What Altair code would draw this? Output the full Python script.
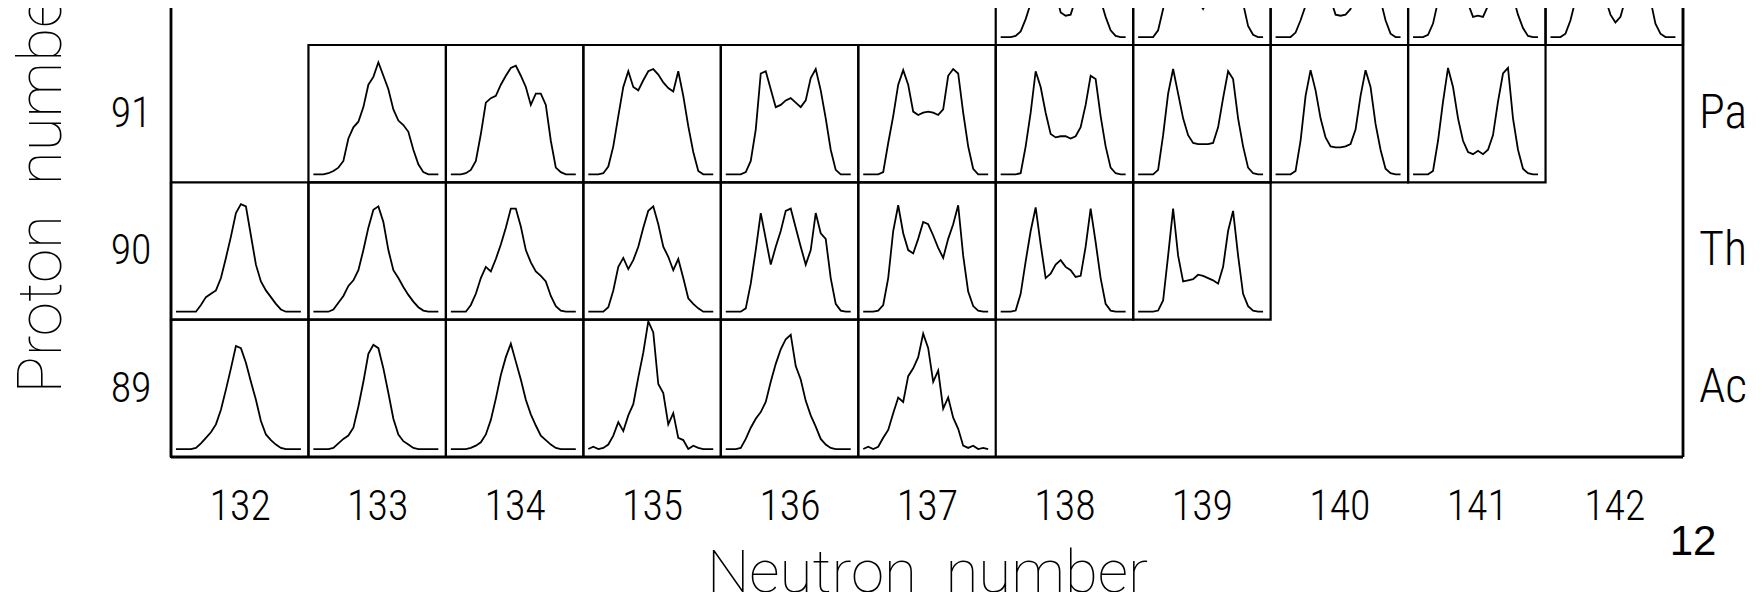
import altair as alt
import pandas as pd

# fragment mass numbers sampled across each cell
mass = [68, 72, 76, 80, 84, 88, 92, 96, 100, 104, 108, 112, 116, 120, 124, 128,
        132, 136, 140, 144, 148, 152, 156, 160, 164, 168]

neutrons = [132, 133, 134, 135, 136, 137, 138, 139, 140, 141, 142]
protons = [89, 90, 91]
elements = ["Ac", "Th", "Pa"]
element_z = [89, 90, 91]

# yields (arbitrary units) read from each cell, U row (Z=92)
u138 = [0, 0, 0, 1, 5, 16, 30, 60, 90, 85, 60, 40, 22, 19, 20, 34, 65, 90, 85, 55, 33, 18, 6, 1, 0, 0]
u139 = [0, 0, 0, 0, 6, 25, 45, 75, 95, 80, 60, 40, 32, 25, 34, 45, 65, 85, 95, 75, 40, 30, 10, 2, 0, 0]
u140 = [0, 0, 0, 0, 4, 15, 28, 60, 88, 80, 50, 34, 20, 19, 20, 25, 45, 85, 92, 70, 45, 33, 15, 3, 0, 0]
u141 = [0, 0, 0, 2, 12, 32, 55, 85, 95, 75, 45, 30, 18, 19, 18, 28, 45, 88, 95, 65, 36, 20, 8, 1, 0, 0]
u142 = [0, 0, 0, 3, 15, 33, 60, 88, 95, 70, 45, 34, 20, 13, 18, 34, 50, 75, 95, 85, 33, 12, 3, 0, 0, 0]

# Pa row (Z=91)
pa133 = [0, 0, 0, 1, 3, 6, 12, 32, 42, 47, 60, 80, 87, 100, 88, 76, 58, 48, 44, 38, 22, 9, 2, 0, 0, 0]
pa134 = [0, 0, 0, 1, 4, 12, 36, 64, 68, 70, 80, 88, 95, 97, 88, 78, 62, 72, 72, 62, 30, 6, 2, 0, 0, 0]
pa135 = [0, 0, 0, 1, 7, 25, 52, 78, 92, 78, 75, 84, 92, 94, 89, 82, 77, 74, 92, 70, 43, 20, 3, 0, 0, 0]
pa136 = [0, 0, 0, 0, 2, 12, 40, 90, 92, 76, 60, 62, 66, 68, 64, 60, 66, 86, 94, 75, 50, 22, 4, 0, 0, 0]
pa137 = [0, 0, 0, 0, 2, 28, 52, 80, 93, 80, 56, 53, 55, 56, 55, 53, 58, 88, 94, 90, 55, 25, 5, 0, 0, 0]
pa138 = [0, 0, 0, 0, 1, 25, 55, 92, 78, 55, 36, 33, 34, 34, 32, 34, 42, 62, 88, 85, 52, 25, 6, 1, 0, 0]
pa139 = [0, 0, 0, 0, 4, 35, 72, 94, 72, 50, 35, 28, 27, 27, 27, 28, 42, 68, 92, 85, 50, 25, 6, 1, 0, 0]
pa140 = [0, 0, 0, 0, 3, 30, 70, 93, 75, 50, 33, 25, 24, 24, 25, 27, 40, 70, 93, 78, 45, 22, 5, 1, 0, 0]
pa141 = [0, 0, 0, 0, 3, 30, 65, 95, 78, 50, 30, 20, 18, 21, 18, 22, 35, 65, 90, 95, 50, 22, 5, 1, 0, 0]

# Th row (Z=90)
th132 = [0, 0, 0, 0, 0, 6, 13, 16, 19, 30, 48, 67, 88, 96, 94, 68, 42, 27, 19, 13, 7, 2, 0, 0, 0, 0]
th133 = [0, 0, 0, 0, 2, 8, 14, 23, 28, 37, 55, 75, 91, 94, 80, 55, 37, 30, 22, 15, 9, 4, 1, 0, 0, 0]
th134 = [0, 0, 0, 0, 6, 16, 30, 40, 36, 47, 60, 75, 92, 92, 76, 55, 44, 36, 32, 27, 14, 5, 1, 0, 0, 0]
th135 = [0, 0, 0, 0, 4, 19, 40, 48, 38, 46, 58, 75, 90, 94, 78, 58, 49, 37, 47, 30, 12, 7, 3, 0, 0, 0]
th136 = [0, 0, 0, 0, 3, 25, 55, 88, 65, 42, 58, 72, 90, 92, 75, 58, 42, 55, 88, 70, 65, 30, 7, 1, 0, 0]
th137 = [0, 0, 0, 1, 6, 30, 72, 95, 70, 55, 52, 65, 80, 78, 68, 57, 48, 65, 78, 95, 50, 18, 5, 1, 0, 0]
th138 = [0, 0, 0, 1, 16, 45, 72, 93, 60, 30, 34, 42, 46, 40, 37, 31, 32, 58, 92, 62, 30, 7, 1, 0, 0, 0]
th139 = [0, 0, 0, 0, 1, 10, 50, 92, 50, 27, 28, 29, 33, 32, 30, 28, 25, 40, 72, 90, 50, 16, 5, 1, 0, 0]

# Ac row (Z=89)
ac132 = [0, 0, 0, 0, 1, 5, 10, 15, 22, 35, 53, 72, 92, 90, 77, 60, 44, 25, 13, 8, 4, 1, 0, 0, 0, 0]
ac133 = [0, 0, 0, 0, 1, 5, 9, 12, 19, 38, 60, 85, 93, 90, 72, 50, 27, 13, 7, 4, 1, 0, 0, 0, 0, 0]
ac134 = [0, 0, 0, 0, 1, 3, 6, 13, 26, 45, 66, 82, 94, 78, 62, 44, 31, 21, 12, 8, 4, 1, 0, 0, 0, 0]
ac135 = [0, 2, 0, 1, 4, 12, 24, 16, 30, 40, 64, 86, 114, 104, 58, 50, 22, 32, 10, 8, 0, 3, 1, 0, 0, 0]
ac136 = [0, 0, 0, 1, 9, 19, 27, 33, 42, 60, 76, 89, 98, 102, 74, 62, 43, 30, 20, 9, 4, 1, 0, 0, 0, 0]
ac137 = [0, 2, 0, 2, 10, 17, 32, 46, 42, 65, 72, 82, 103, 90, 60, 70, 36, 46, 28, 18, 3, 1, 3, 0, 1, 0]

cells = [
    (92, 138, u138), (92, 139, u139), (92, 140, u140), (92, 141, u141), (92, 142, u142),
    (91, 133, pa133), (91, 134, pa134), (91, 135, pa135), (91, 136, pa136), (91, 137, pa137),
    (91, 138, pa138), (91, 139, pa139), (91, 140, pa140), (91, 141, pa141),
    (90, 132, th132), (90, 133, th133), (90, 134, th134), (90, 135, th135), (90, 136, th136),
    (90, 137, th137), (90, 138, th138), (90, 139, th139),
    (89, 132, ac132), (89, 133, ac133), (89, 134, ac134), (89, 135, ac135), (89, 136, ac136),
    (89, 137, ac137),
]

rows = []
for z, n, yv in cells:
    for a, y in zip(mass, yv):
        rows.append({"Z": z, "N": n, "cell": f"{z}-{n}", "A": a, "Y": y})
curves = pd.DataFrame(rows)
boxes = pd.DataFrame([{"Z": z, "N": n} for z, n, _ in cells])
syms = pd.DataFrame({"Z": element_z, "sym": elements})

n_lo, n_hi = neutrons[0] - 0.5, neutrons[-1] + 0.5
z_lo = protons[0] - 0.5
z_top = 91.7694
frame = pd.DataFrame({
    "x": [n_lo, n_hi, n_lo],
    "x2": [n_lo, n_hi, n_hi],
    "y": [z_lo, z_lo, z_lo],
    "y2": [92.6, 92.6, z_lo],
})

xs = alt.Scale(domain=[n_lo, n_hi], nice=False, zero=False)
ys = alt.Scale(domain=[z_lo, z_top], nice=False, zero=False)

NUMFONT = "Liberation Sans Narrow, Roboto Condensed, DejaVu Sans Condensed, sans-serif"
TITLEFONT = "Roboto, Liberation Sans, sans-serif"

x_axis = alt.Axis(
    values=neutrons, format="d", ticks=False, tickSize=0, domain=False, grid=False,
    labelFont=NUMFONT, labelFontSize=42, labelColor="black", labelPadding=62,
    labelBaseline="alphabetic", labelFontWeight=300,
    title="Neutron\u00a0\u00a0number", titleFont=TITLEFONT, titleFontSize=60,
    titleFontWeight=100, titleColor="black", titleBaseline="alphabetic", titleY=134,
)
y_axis = alt.Axis(
    values=protons, format="d", ticks=False, tickSize=0, domain=False, grid=False,
    labelFont=NUMFONT, labelFontSize=42, labelColor="black", labelPadding=20,
    labelAlign="right", labelBaseline="middle", labelFontWeight=300,
    title="Proton\u00a0\u00a0number", titleFont=TITLEFONT, titleFontSize=62,
    titleFontWeight=100, titleColor="black", titleAngle=270, titleAlign="left",
    titleBaseline="alphabetic", titleX=-111, titleY=385,
)

rect = alt.Chart(boxes).transform_calculate(
    x0="datum.N - 0.5", x1="datum.N + 0.5", y0="datum.Z - 0.5", y1="datum.Z + 0.5"
).mark_rect(fillOpacity=0, stroke="black", strokeWidth=2.2).encode(
    x=alt.X("x0:Q", scale=xs, axis=x_axis),
    x2="x1:Q",
    y=alt.Y("y0:Q", scale=ys, axis=y_axis),
    y2="y1:Q",
)

lines = alt.Chart(curves).transform_calculate(
    xp="datum.N - 0.5 + 0.036 + (datum.A - 68) / 100 * 0.909",
    yp="datum.Z - 0.5 + 0.058 + datum.Y / 100 * 0.816",
).mark_line(color="black", strokeWidth=1.8, strokeJoin="miter").encode(
    x=alt.X("xp:Q", scale=xs, axis=x_axis),
    y=alt.Y("yp:Q", scale=ys, axis=y_axis),
    detail="cell:N",
    order="A:Q",
)

frame_rules = alt.Chart(frame).mark_rule(color="black", strokeWidth=2.8).encode(
    x=alt.X("x:Q", scale=xs, axis=x_axis), x2="x2:Q",
    y=alt.Y("y:Q", scale=ys, axis=y_axis), y2="y2:Q",
)

sym_text = alt.Chart(syms).mark_text(
    font=NUMFONT, fontSize=48, fontWeight=300, align="left", baseline="middle",
    dx=16, color="black"
).encode(
    x=alt.datum(n_hi, scale=xs, axis=x_axis),
    y=alt.Y("Z:Q", scale=ys, axis=y_axis),
    text="sym:N",
)

slide_no = alt.Chart(pd.DataFrame({"t": ["12"]})).mark_text(
    font="Liberation Sans, Arial, sans-serif", fontSize=42, align="center",
    baseline="alphabetic", dx=10, dy=98, color="black"
).encode(
    x=alt.datum(n_hi, scale=xs, axis=x_axis),
    y=alt.datum(z_lo, scale=ys, axis=y_axis),
    text="t:N",
)

chart = alt.layer(rect, lines, frame_rules, sym_text, slide_no).properties(
    width=1512, height=449,
    autosize=alt.AutoSizeParams(type="none"),
    padding={"left": 163, "top": 0, "right": 71, "bottom": 135},
    background="white",
).configure_view(strokeWidth=0)

chart.save("out.html", embed_options={"renderer": "svg", "actions": False})
